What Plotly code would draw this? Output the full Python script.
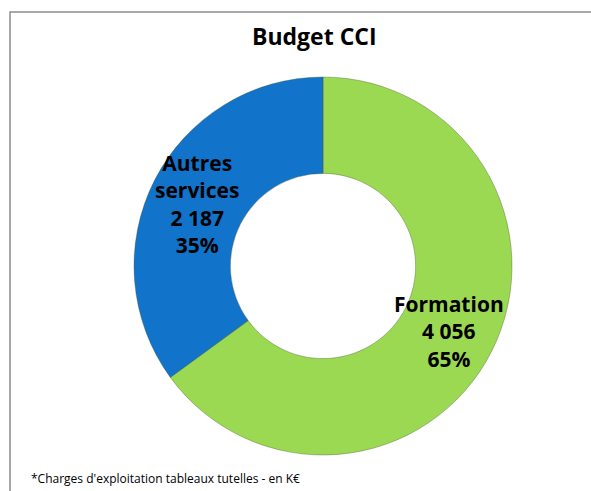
import plotly.graph_objects as go

categories = ["Formation", "Autres services"]
values = [4056, 2187]
value_labels = ["4 056", "2 187"]
colors = ["#9CD952", "#1173CA"]
title_text = "Budget CCI"
footnote = "*Charges d'exploitation tableaux tutelles - en K€"

W, H = 591, 491
total = sum(values)
pcts = [round(v / total * 100) for v in values]

fig = go.Figure(go.Pie(
    labels=categories,
    values=values,
    hole=0.49,
    sort=False,
    direction="clockwise",
    rotation=0,
    marker=dict(colors=colors, line=dict(color="rgba(60,80,40,0.35)", width=1)),
    textinfo="none",
    hoverinfo="label+value+percent",
    showlegend=False,
    domain=dict(x=[134 / W, 512 / W], y=[1 - 455 / H, 1 - 77 / H]),
))

font_lbl = dict(family="Open Sans, Noto Sans, sans-serif", size=21, color="#000000")
lbl_pos = {"Formation": (449, 331), "Autres services": (197, 204)}
for cat, vl, p in zip(categories, value_labels, pcts):
    name = cat.replace(" ", "<br>")
    txt = f"<b>{name}<br>{vl}<br>{p}%</b>"
    x, y = lbl_pos[cat]
    fig.add_annotation(x=x / W, y=1 - y / H, xref="paper", yref="paper",
                       text=txt, showarrow=False, font=font_lbl,
                       xanchor="center", yanchor="middle", align="center")

fig.add_annotation(x=314 / W, y=1 - 36 / H, xref="paper", yref="paper",
                   text=f"<b>{title_text}</b>", showarrow=False,
                   font=dict(family="Open Sans, Noto Sans, sans-serif", size=23, color="#000000"),
                   xanchor="center", yanchor="middle")

fig.add_annotation(x=29 / W, y=1 - 478 / H, xref="paper", yref="paper",
                   text=footnote, showarrow=False,
                   font=dict(family="Open Sans, Noto Sans, sans-serif", size=12, color="#000000"),
                   xanchor="left", yanchor="middle")

fig.add_shape(type="rect", xref="paper", yref="paper",
              x0=10 / W, x1=1.05, y0=-0.05, y1=1 - 12 / H,
              line=dict(color="#8c8c8c", width=1.5), fillcolor="rgba(0,0,0,0)")

fig.update_layout(
    width=W, height=H,
    margin=dict(l=0, r=0, t=0, b=0),
    paper_bgcolor="white", plot_bgcolor="white",
)

fig.write_html(
    "out.html",
    config={"displayModeBar": False},
    post_script="document.body.style.margin='0';document.body.style.overflow='hidden';",
)
